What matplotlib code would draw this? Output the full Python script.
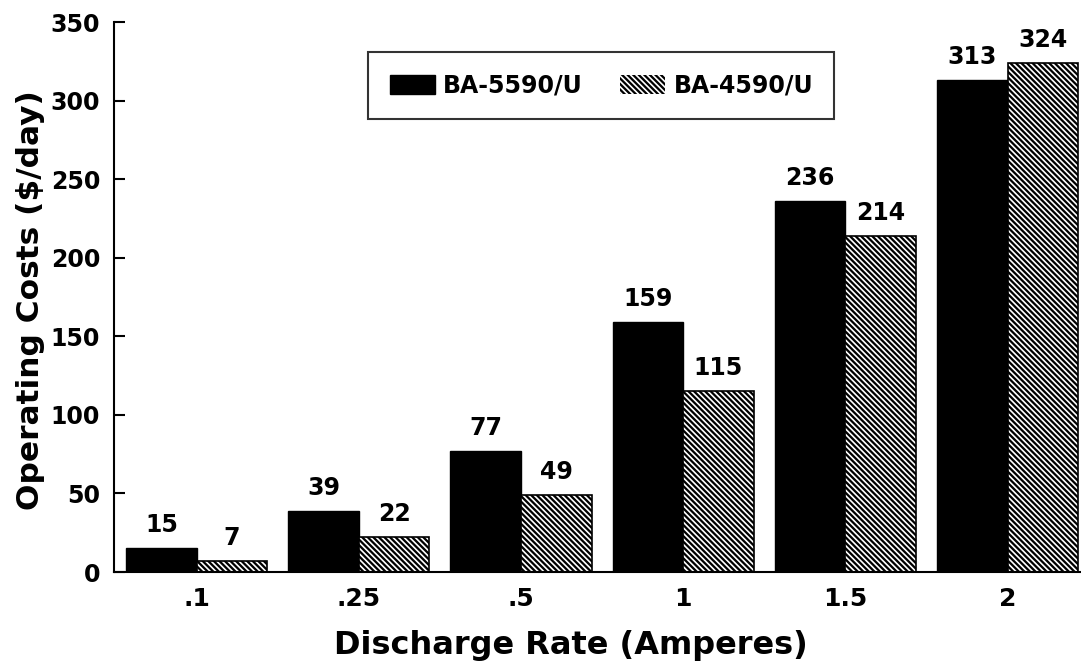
import matplotlib.pyplot as plt
import numpy as np

# Data
rates = ['.1', '.25', '.5', '1', '1.5', '2']
ba5590 = [15, 39, 77, 159, 236, 313]
ba4590 = [7, 22, 49, 115, 214, 324]

plt.rcParams['font.family'] = ['DejaVu Sans']
plt.rcParams['font.weight'] = 'bold'
plt.rcParams['hatch.linewidth'] = 1.2

fig = plt.figure(figsize=(10.81, 6.65), dpi=100)
ax = fig.add_axes([0.1055, 0.1398, 0.8945, 0.827])

x = np.arange(len(rates))
w = 0.435

b1 = ax.bar(x - w / 2, ba5590, w, color='black', edgecolor='black', label='BA-5590/U')
b2 = ax.bar(x + w / 2, ba4590, w, facecolor='black', edgecolor='white', linewidth=0,
            hatch='\\' * 6, label='BA-4590/U')
ax.bar(x + w / 2, ba4590, w, fill=False, edgecolor='black', linewidth=1.2)

for rect, v in zip(list(b1) + list(b2), ba5590 + ba4590):
    ax.annotate(str(v), (rect.get_x() + rect.get_width() / 2, v),
                xytext=(0, 8), textcoords='offset points',
                ha='center', va='bottom', fontsize=17, fontweight='bold')

ax.set_xlim(-0.509, 5.453)
ax.set_ylim(0, 350)
ax.set_yticks(range(0, 351, 50))
ax.set_xticks(x)
ax.set_xticklabels(rates)
ax.tick_params(axis='y', direction='in', length=8, width=1.5, labelsize=17, pad=10)
ax.tick_params(axis='x', length=0, labelsize=18, pad=11)
for lab in ax.get_xticklabels() + ax.get_yticklabels():
    lab.set_fontweight('bold')

ax.spines['top'].set_visible(False)
ax.spines['right'].set_visible(False)
ax.spines['left'].set_linewidth(1.5)
ax.spines['bottom'].set_linewidth(1.5)

ax.set_xlabel('Discharge Rate (Amperes)', fontsize=23, fontweight='bold')
ax.xaxis.set_label_coords(0.4726, -0.105)
ax.set_ylabel('Operating Costs ($/day)', fontsize=22.5, fontweight='bold')
ax.yaxis.set_label_coords(-0.071, 0.495)

leg = ax.legend(loc='upper center', bbox_to_anchor=(0.504, 0.945), ncol=2,
                frameon=True, fancybox=False, edgecolor='black',
                handlelength=1.9, handleheight=0.85, handletextpad=0.35,
                columnspacing=1.6, borderpad=0.9, borderaxespad=0,
                prop={'weight': 'bold', 'size': 17})
leg.get_frame().set_linewidth(1.5)

fig.savefig('out.png', dpi=100)
